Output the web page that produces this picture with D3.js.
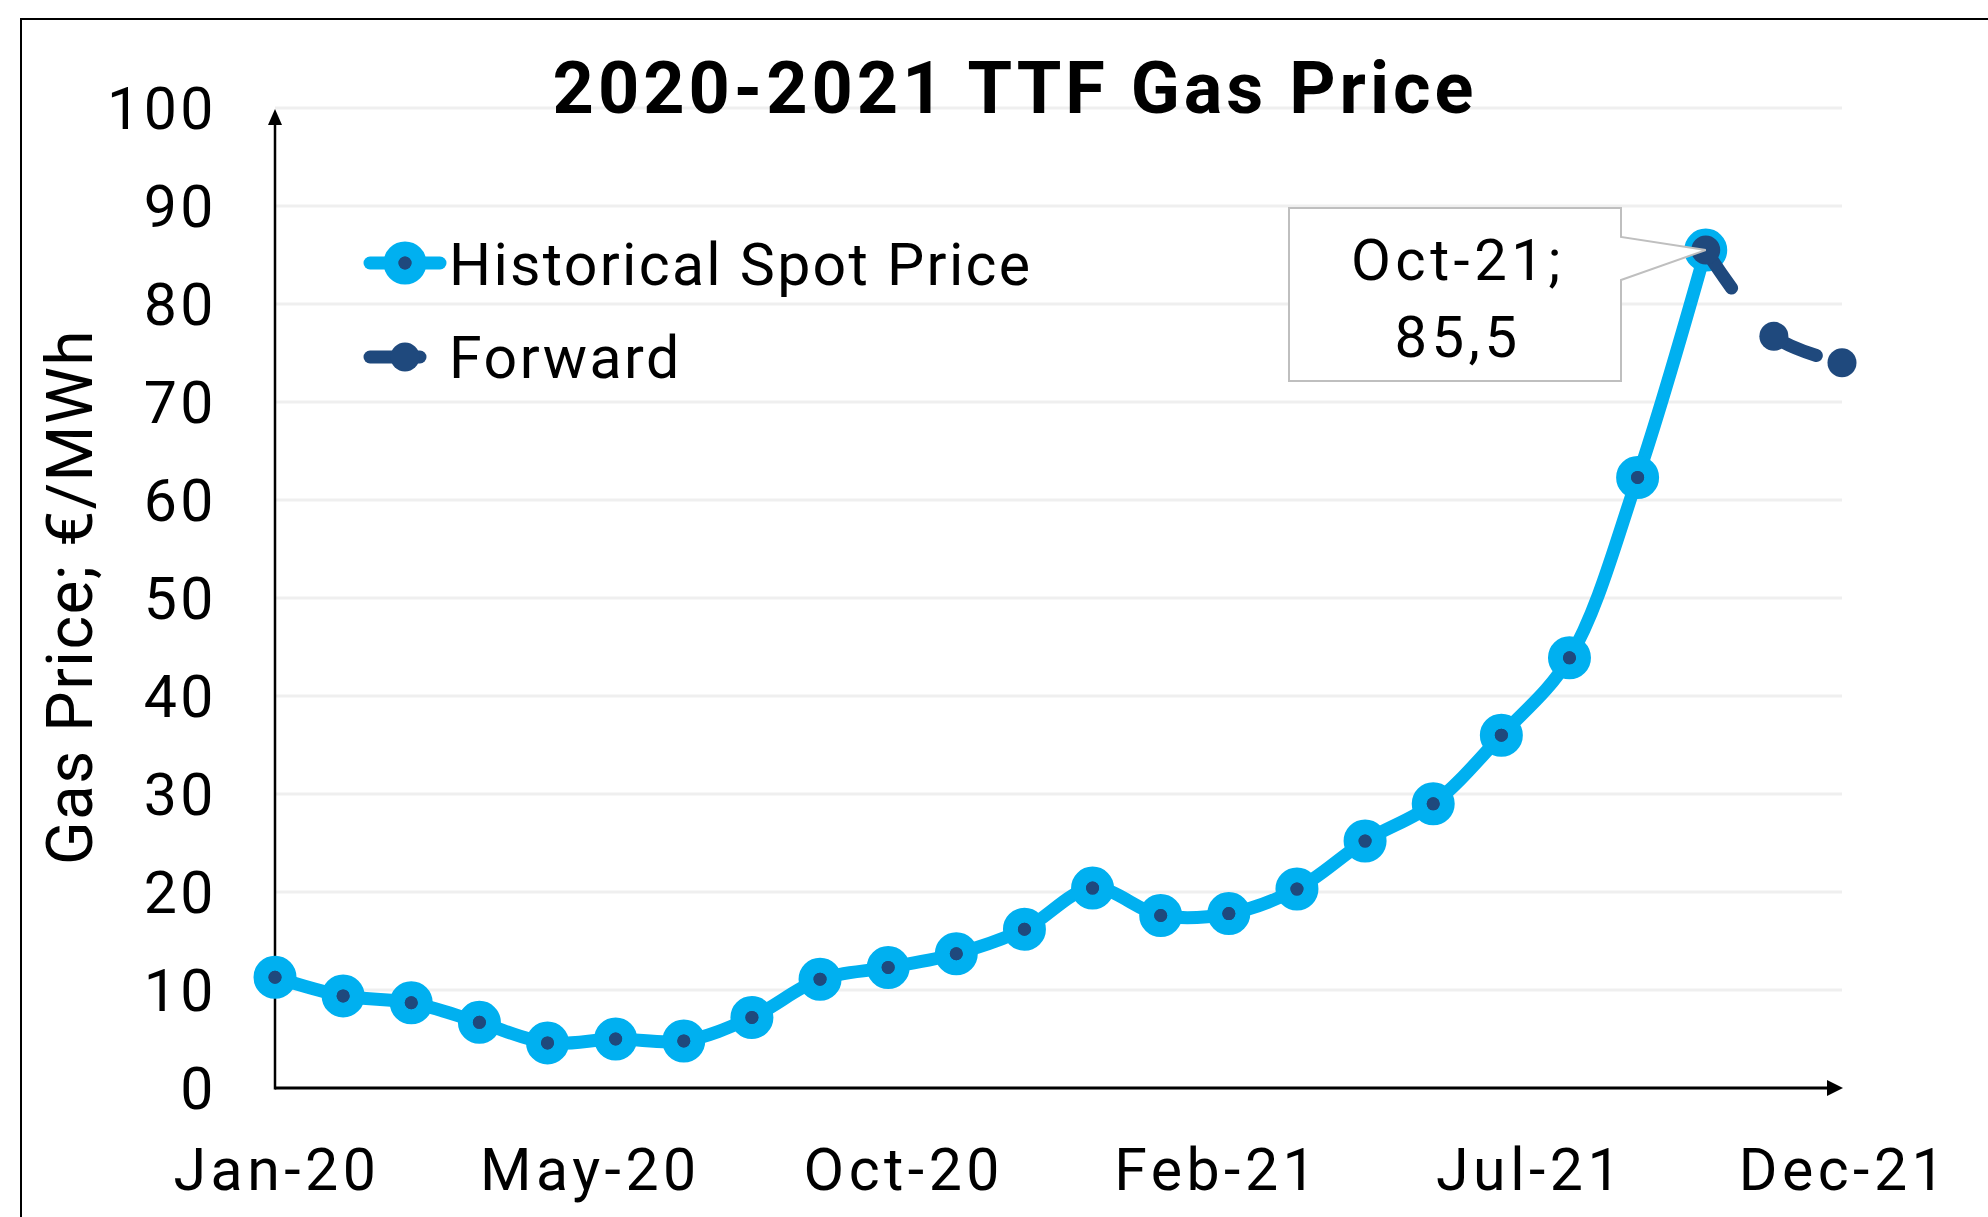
<!DOCTYPE html>
<html>
<head>
<meta charset="utf-8">
<script src="https://cdn.jsdelivr.net/npm/d3@7"></script>
<style>
  body { margin: 0; background: #fff; }
  svg text { font-family: Roboto, "Noto Sans", sans-serif; fill: #000; }
</style>
</head>
<body>
<div id="chart"></div>
<script>
// months on the x axis (index = position)
const months = ["Jan-20", "Feb-20", "Mar-20", "Apr-20", "May-20", "Jun-20", "Jul-20", "Aug-20",
  "Sep-20", "Oct-20", "Nov-20", "Dec-20", "Jan-21", "Feb-21", "Mar-21", "Apr-21", "May-21",
  "Jun-21", "Jul-21", "Aug-21", "Sep-21", "Oct-21", "Nov-21", "Dec-21"];

// historical spot price, Jan-20 .. Oct-21 (EUR/MWh)
const historical = [11.3, 9.4, 8.7, 6.7, 4.6, 5.0, 4.8, 7.2, 11.1, 12.3, 13.7, 16.2,
  20.4, 17.6, 17.8, 20.3, 25.2, 29.0, 36.0, 43.9, 62.3, 85.5];

// forward curve, Oct-21 .. Dec-21
const forwardMonths = ["Oct-21", "Nov-21", "Dec-21"];
const forward = [85.5, 76.7, 74.0];

// x tick labels (Excel date axis: 5 evenly spaced labels)
const xTickLabels = ["Jan-20", "May-20", "Oct-20", "Feb-21", "Jul-21", "Dec-21"];
const yTicks = [0, 10, 20, 30, 40, 50, 60, 70, 80, 90, 100];

const callout = { month: "Oct-21", value: 85.5, text: ["Oct-21;", "85,5"] };

const W = 1988, H = 1217;
const cyan = "#00b0f0", navy = "#1f497d";

const svg = d3.select("#chart").append("svg")
  .attr("width", W).attr("height", H);

svg.append("rect").attr("width", W).attr("height", H).attr("fill", "#fff");

// outer frame (runs off the right and bottom edges)
svg.append("rect")
  .attr("x", 21).attr("y", 19)
  .attr("width", W + 20).attr("height", H + 20)
  .attr("fill", "none").attr("stroke", "#000").attr("stroke-width", 2);

const x = d3.scaleLinear().domain([0, months.length - 1]).range([275, 1842]);
const y = d3.scaleLinear().domain([0, 100]).range([1088, 108]);
const xm = (m) => x(months.indexOf(m));

// gridlines
svg.append("g")
  .selectAll("line")
  .data(yTicks.filter((d) => d > 0))
  .join("line")
  .attr("x1", x(0)).attr("x2", x(months.length - 1))
  .attr("y1", (d) => y(d)).attr("y2", (d) => y(d))
  .attr("stroke", "#efefef").attr("stroke-width", 3);

// y tick labels
svg.append("g")
  .selectAll("text")
  .data(yTicks)
  .join("text")
  .attr("x", 217).attr("y", (d) => y(d))
  .attr("dy", "0.35em")
  .attr("text-anchor", "end")
  .attr("font-size", 59)
  .attr("letter-spacing", 3.5)
  .text((d) => d);

// x tick labels
const step = (months.length - 1) / (xTickLabels.length - 1);
svg.append("g")
  .selectAll("text")
  .data(xTickLabels)
  .join("text")
  .attr("x", (d, i) => x(i * step) + 2).attr("y", 1190)
  .attr("text-anchor", "middle")
  .attr("font-size", 59)
  .attr("letter-spacing", 4.5)
  .text((d) => d);

// axes with arrow heads
const axisG = svg.append("g");
axisG.append("line")
  .attr("x1", x(0)).attr("x2", x(months.length - 1) - 12)
  .attr("y1", y(0)).attr("y2", y(0))
  .attr("stroke", "#000").attr("stroke-width", 3);
axisG.append("path")
  .attr("d", `M${x(months.length - 1) + 1},${y(0)} l-16,-8 v16 z`)
  .attr("fill", "#000");
axisG.append("line")
  .attr("x1", x(0)).attr("x2", x(0))
  .attr("y1", y(0) + 1.5).attr("y2", y(100) + 14)
  .attr("stroke", "#000").attr("stroke-width", 2.5);
axisG.append("path")
  .attr("d", `M${x(0)},${y(100) + 1} l-7,16 h14 z`)
  .attr("fill", "#000");

// title
svg.append("text")
  .attr("x", 1015).attr("y", 113)
  .attr("text-anchor", "middle")
  .attr("font-size", 72).attr("font-weight", 700)
  .attr("letter-spacing", 4)
  .text("2020-2021 TTF Gas Price");

// y axis title
svg.append("text")
  .attr("transform", "translate(92,597) rotate(-90)")
  .attr("text-anchor", "middle")
  .attr("font-size", 64)
  .attr("letter-spacing", 1.5)
  .text("Gas Price; €/MWh");

// lines
const line = d3.line()
  .x((d) => x(d.i)).y((d) => y(d.v))
  .curve(d3.curveCatmullRom.alpha(0.5));

const histData = historical.map((v, i) => ({ i, v }));
const fwdData = forward.map((v, k) => ({ i: months.indexOf(forwardMonths[k]), v }));

svg.append("path")
  .datum(histData)
  .attr("d", line)
  .attr("fill", "none").attr("stroke", cyan)
  .attr("stroke-width", 13).attr("stroke-linejoin", "round");

svg.append("g")
  .selectAll("g")
  .data(histData)
  .join("g")
  .attr("transform", (d) => `translate(${x(d.i)},${y(d.v)})`)
  .call((g) => {
    g.append("circle").attr("r", 14).attr("fill", navy)
      .attr("stroke", cyan).attr("stroke-width", 15);
    g.append("circle").attr("r", 6.5).attr("fill", navy);
  });

svg.append("path")
  .datum(fwdData)
  .attr("d", line)
  .attr("fill", "none").attr("stroke", navy)
  .attr("stroke-width", 13).attr("stroke-linecap", "round")
  .attr("stroke-dasharray", "46 65");

svg.append("g")
  .selectAll("circle")
  .data(fwdData)
  .join("circle")
  .attr("cx", (d) => x(d.i)).attr("cy", (d) => y(d.v))
  .attr("r", 14.5).attr("fill", navy);

// callout box for Oct-21
const cx = xm(callout.month), cy = y(callout.value);
const bx0 = 1289, bx1 = 1621, by0 = 208, by1 = 381;
svg.append("path")
  .attr("d", `M${bx0},${by0} H${bx1} V237 L${cx},${cy} L${bx1},280 V${by1} H${bx0} Z`)
  .attr("fill", "#fff").attr("stroke", "#bfbfbf").attr("stroke-width", 2);
svg.append("g")
  .selectAll("text")
  .data(callout.text)
  .join("text")
  .attr("x", (bx0 + bx1) / 2 + 3).attr("y", (d, i) => 280 + i * 77)
  .attr("text-anchor", "middle")
  .attr("font-size", 58)
  .attr("letter-spacing", 4.5)
  .text((d) => d);

// legend
const legend = svg.append("g");
legend.append("line")
  .attr("x1", 370).attr("x2", 440).attr("y1", 263).attr("y2", 263)
  .attr("stroke", cyan).attr("stroke-width", 13).attr("stroke-linecap", "round");
legend.append("circle").attr("cx", 405).attr("cy", 263).attr("r", 14)
  .attr("fill", navy).attr("stroke", cyan).attr("stroke-width", 15);
legend.append("circle").attr("cx", 405).attr("cy", 263).attr("r", 6.5).attr("fill", navy);
legend.append("text").attr("x", 449).attr("y", 285)
  .attr("font-size", 59)
  .attr("letter-spacing", 2.3).text("Historical Spot Price");

legend.append("line")
  .attr("x1", 370).attr("x2", 420).attr("y1", 357).attr("y2", 357)
  .attr("stroke", navy).attr("stroke-width", 13).attr("stroke-linecap", "round");
legend.append("circle").attr("cx", 405).attr("cy", 357).attr("r", 14.5).attr("fill", navy);
legend.append("text").attr("x", 449).attr("y", 378)
  .attr("font-size", 59)
  .attr("letter-spacing", 2.5).text("Forward");
</script>
</body>
</html>
